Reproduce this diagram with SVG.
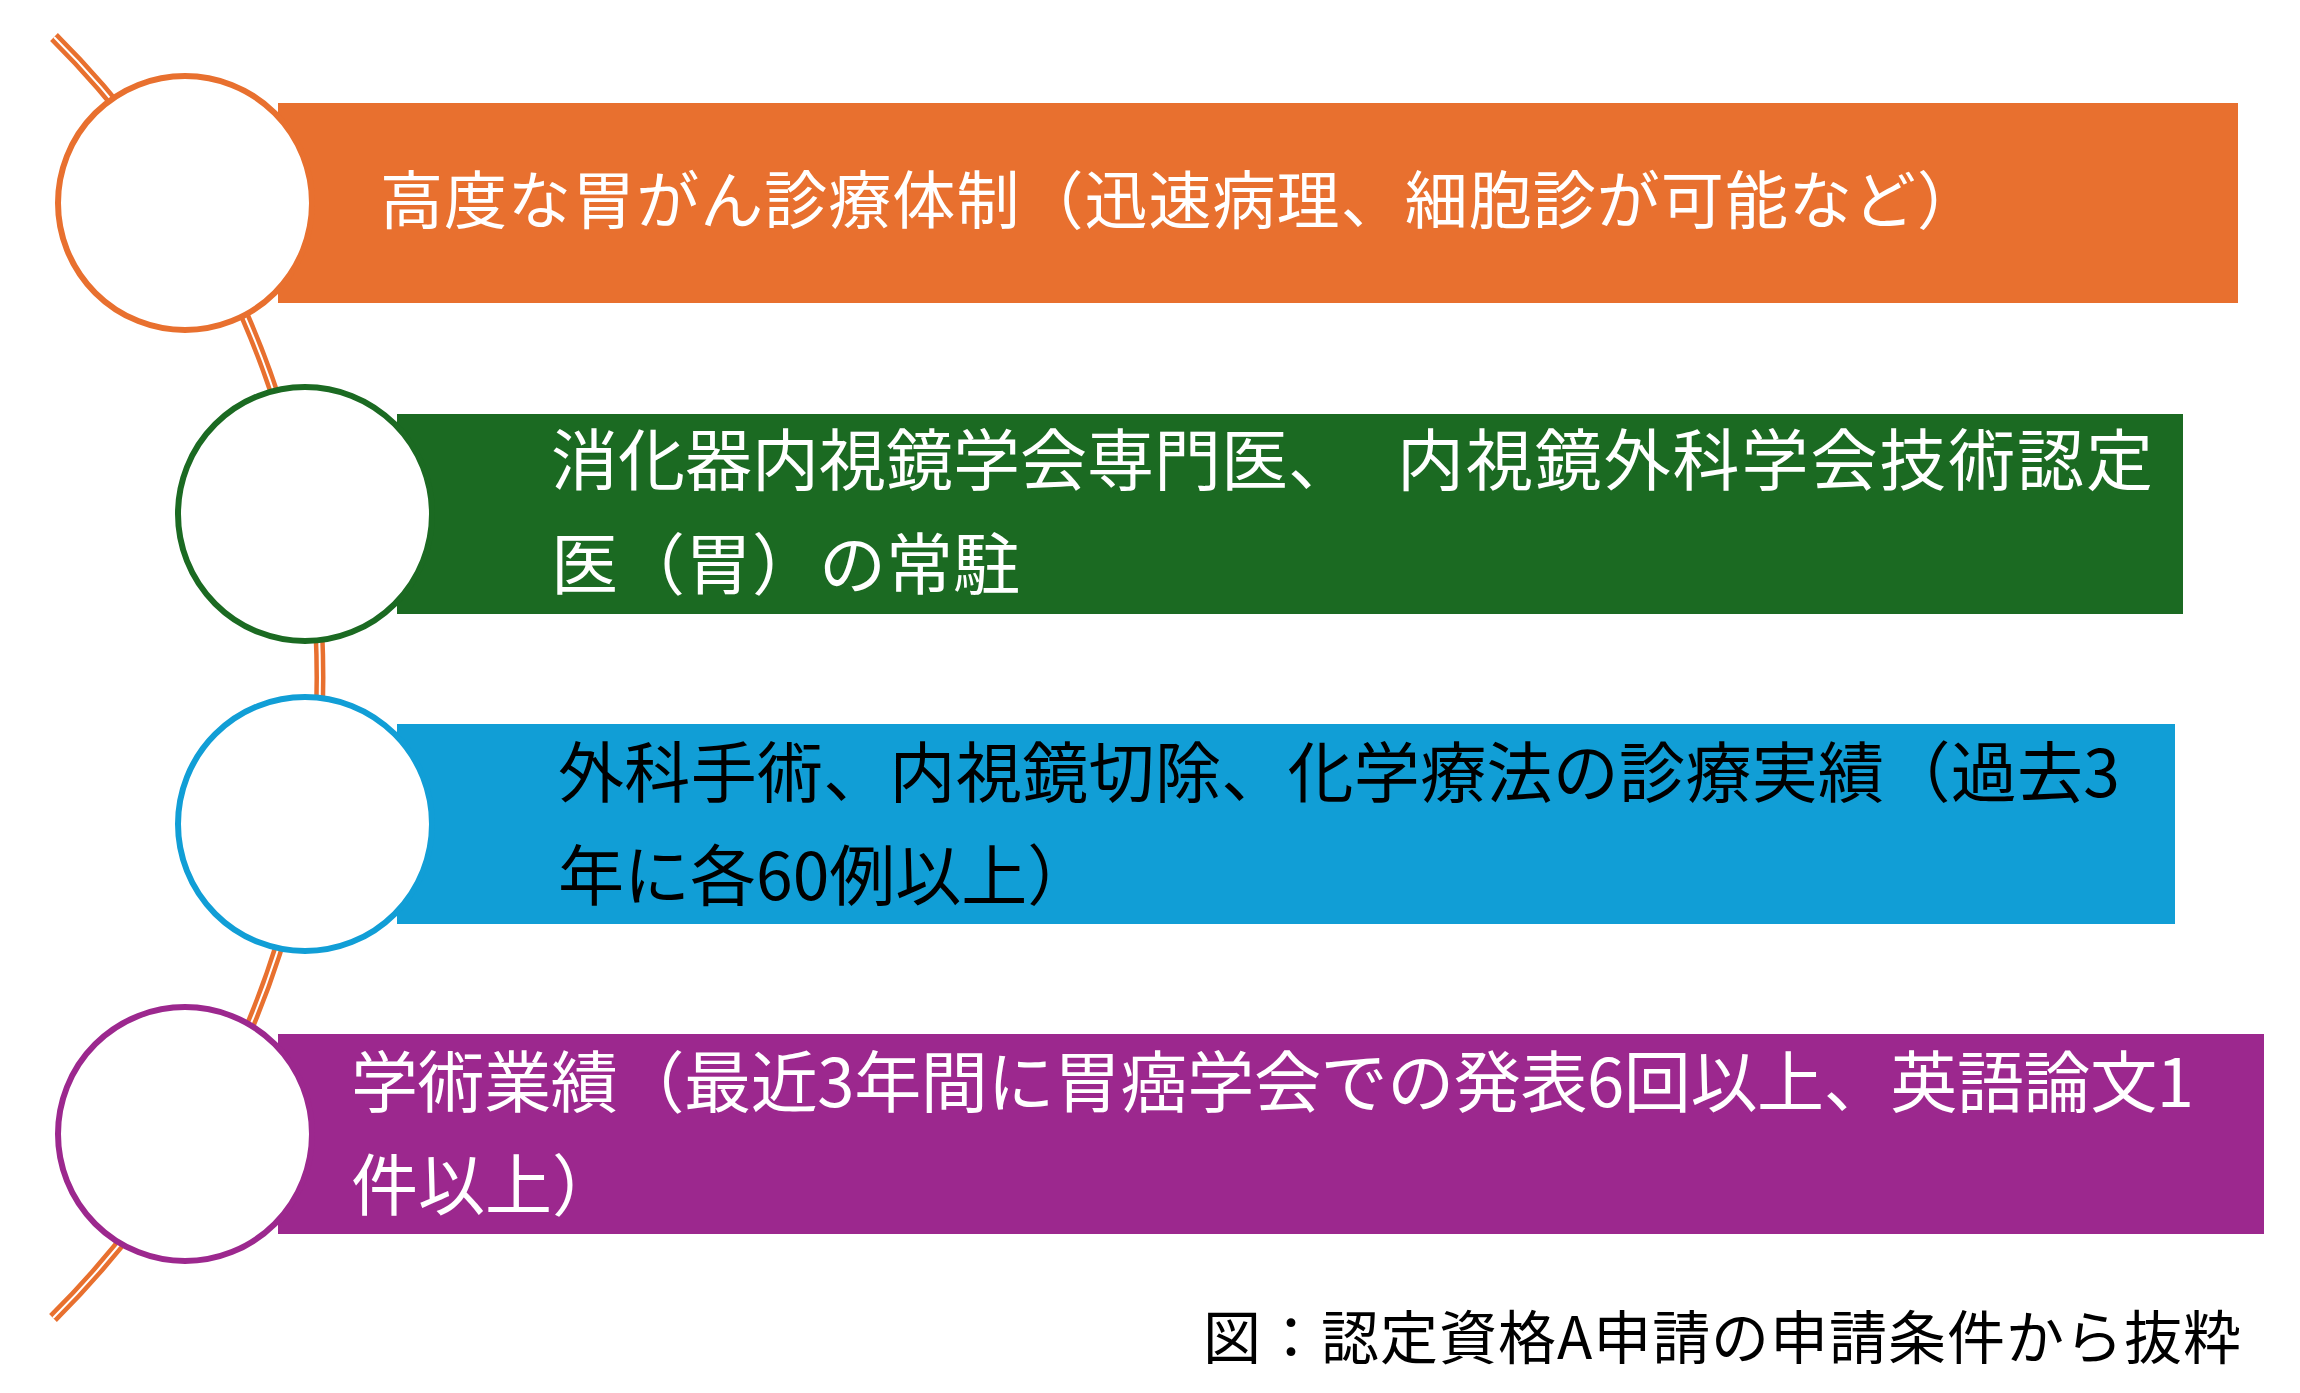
<svg xmlns="http://www.w3.org/2000/svg" width="2300" height="1393" viewBox="0 0 2300 1393">
<style>
.t{font-family:"Noto Sans CJK JP","Noto Sans CJK SC",sans-serif;}
.w{fill:#ffffff;}
.k{fill:#000000;}
.ring{fill:#ffffff;stroke-width:6;}
</style>
<rect width="2300" height="1393" fill="#ffffff"/>
<g id="connectors">
<path d="M 54 37 A 903 903 0 0 1 53 1318" fill="none" stroke="#E8702F" stroke-width="11"/>
<path d="M 54 37 A 903 903 0 0 1 53 1318" fill="none" stroke="#ffffff" stroke-width="2"/>
</g>
<g id="node1">
<rect x="278" y="103" width="1960" height="200" fill="#E8702F"/>
<circle class="ring" cx="185" cy="203" r="127" stroke="#E8702F"/>
<text class="t w" x="380" y="223" font-size="63" textLength="1600" lengthAdjust="spacing">高度な胃がん診療体制（迅速病理、細胞診が可能など）</text>
</g>
<g id="node2">
<rect x="397" y="414" width="1786" height="200" fill="#1B6A22"/>
<circle class="ring" cx="305" cy="514" r="127" stroke="#1B6A22"/>
<text class="t w" font-size="67"><tspan x="551" y="485">消化器内視鏡学会専門医、</tspan><tspan x="1397" y="485" textLength="756" lengthAdjust="spacing">内視鏡外科学会技術認定</tspan><tspan x="551" y="589">医（胃）の常駐</tspan></text>
</g>
<g id="node3">
<rect x="397" y="724" width="1778" height="200" fill="#119ED6"/>
<circle class="ring" cx="305" cy="824" r="127" stroke="#119ED6"/>
<text class="t k" x="558" y="797" font-size="66" textLength="1562" lengthAdjust="spacing">外科手術、内視鏡切除、化学療法の診療実績（過去3</text>
<text class="t k" x="558" y="900" font-size="66">年に各60例以上）</text>
</g>
<g id="node4">
<rect x="278" y="1034" width="1986" height="200" fill="#9C288E"/>
<circle class="ring" cx="185" cy="1134" r="127" stroke="#9C288E"/>
<text class="t w" x="351" y="1107" font-size="67" textLength="1843" lengthAdjust="spacing">学術業績（最近3年間に胃癌学会での発表6回以上、英語論文1</text>
<text class="t w" x="351" y="1210" font-size="67">件以上）</text>
</g>
<g id="caption">
<text class="t k" x="1203" y="1359" font-size="58" textLength="1038" lengthAdjust="spacing">図：認定資格A申請の申請条件から抜粋</text>
</g>
</svg>
